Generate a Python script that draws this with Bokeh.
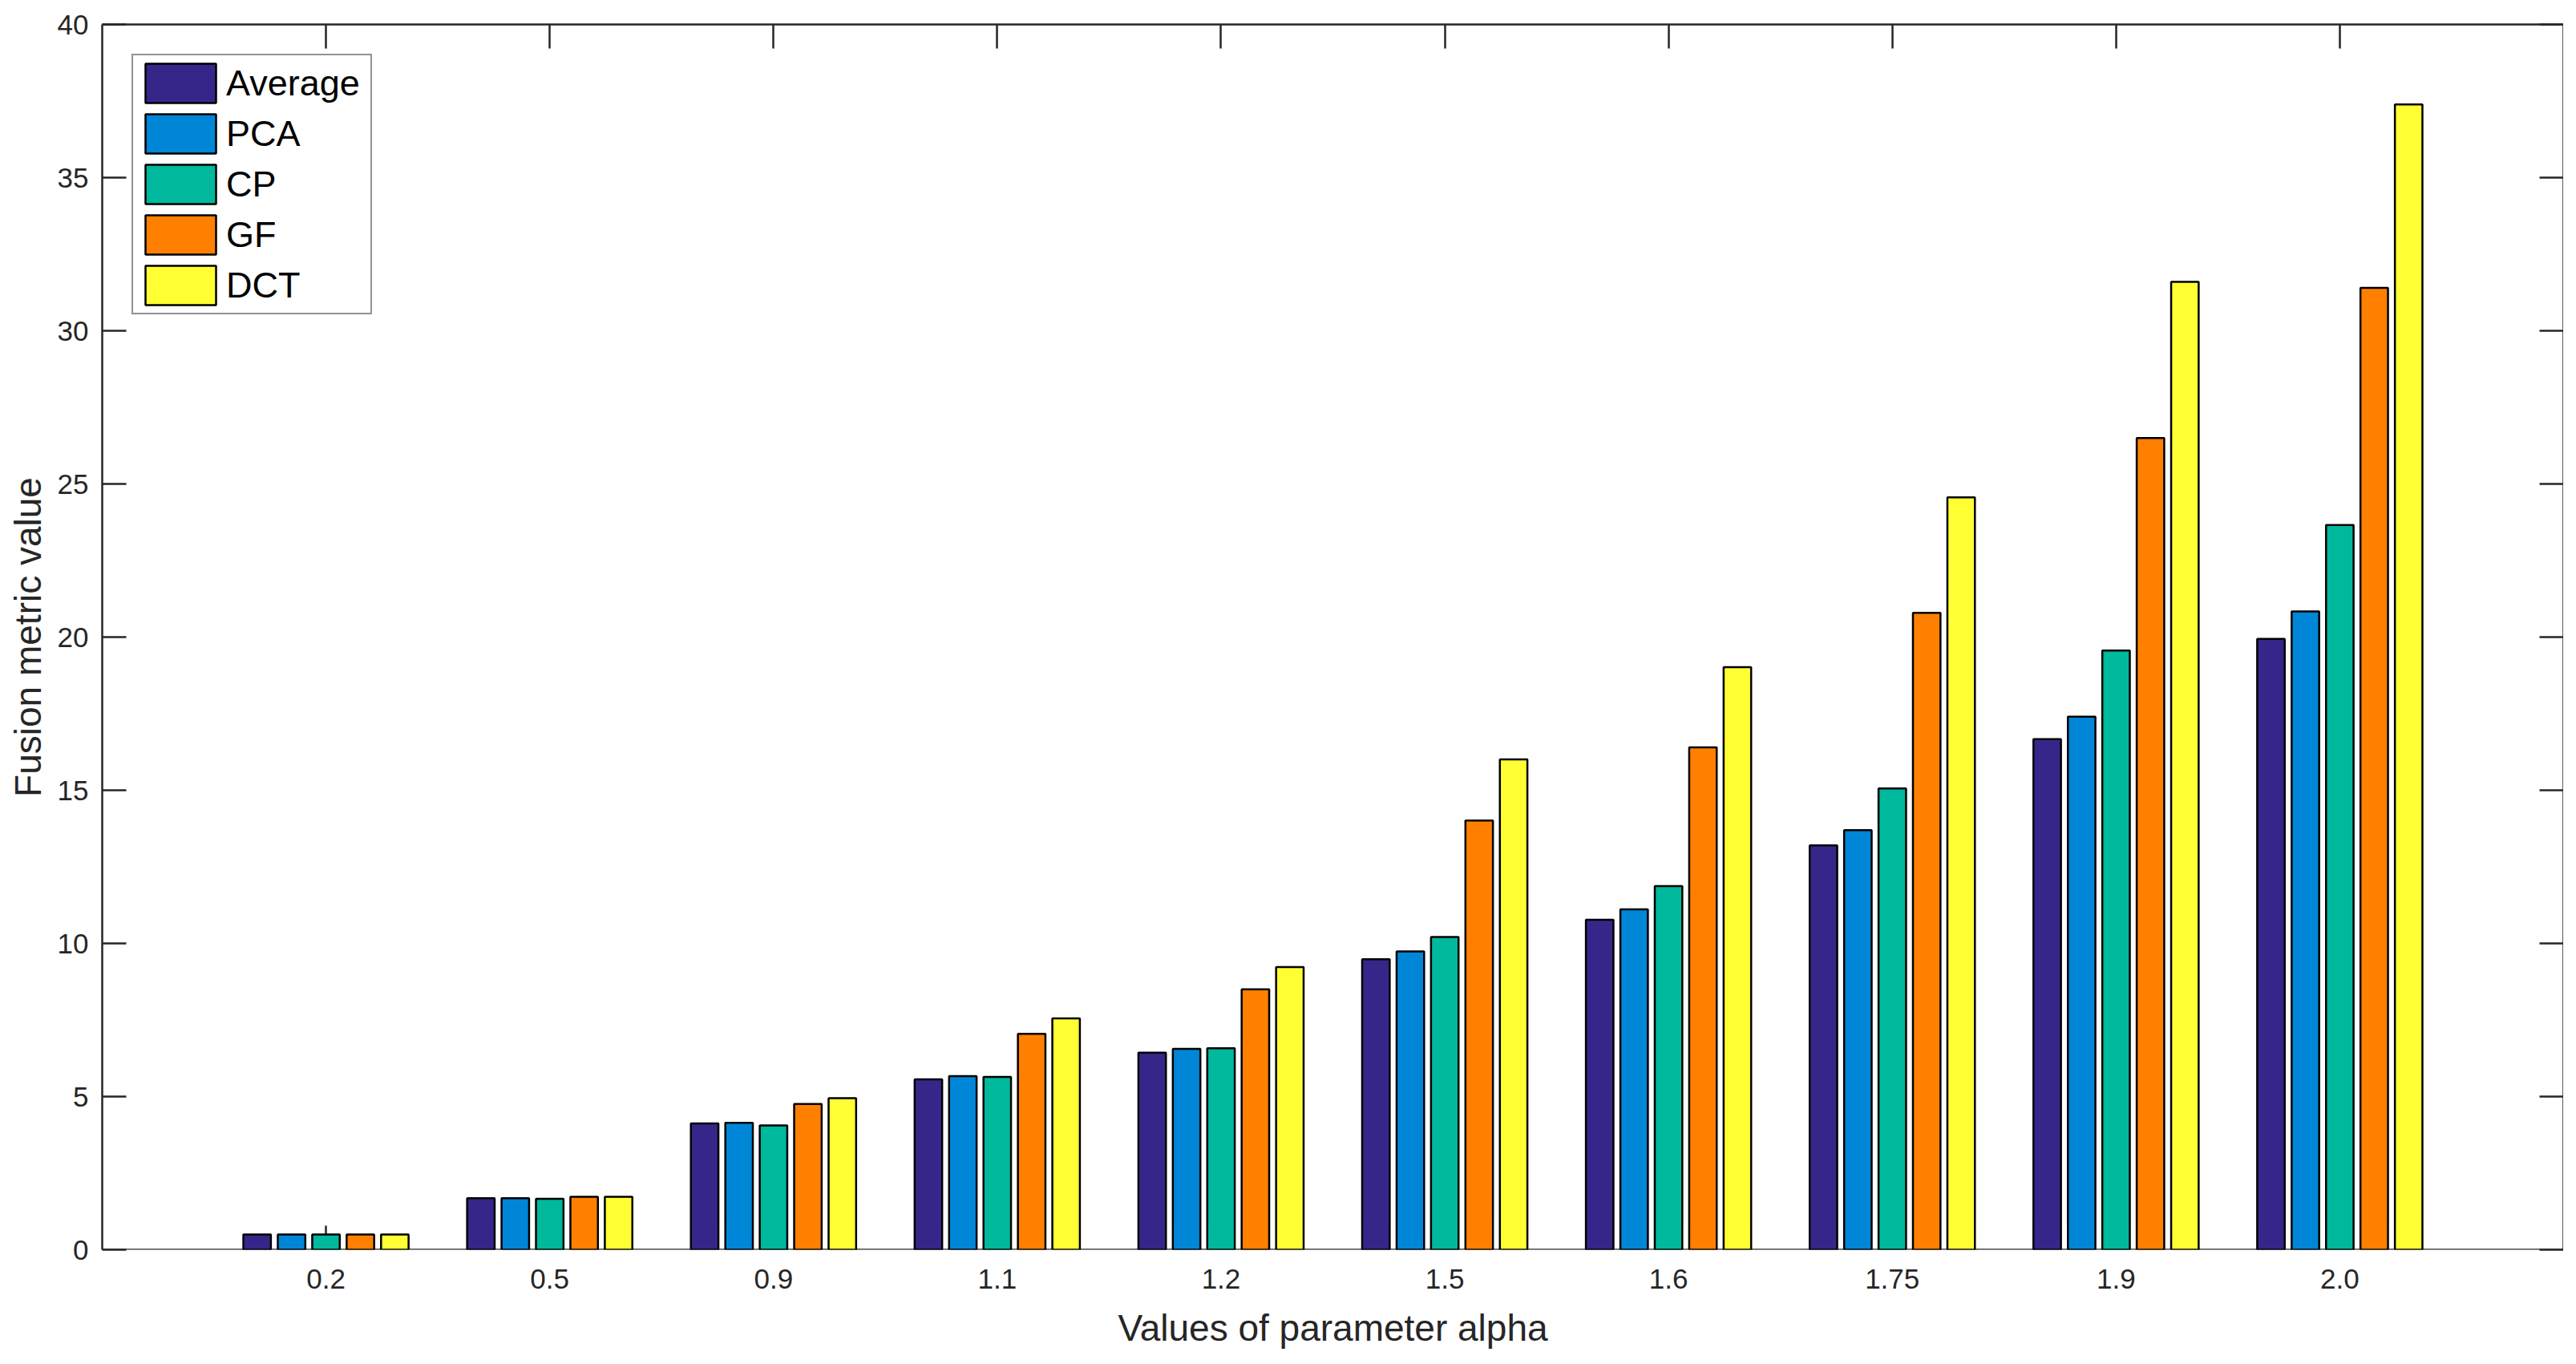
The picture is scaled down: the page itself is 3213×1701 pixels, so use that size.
from bokeh.plotting import figure
from bokeh.models import (Range1d, LinearAxis, FixedTicker, Legend, LegendItem,
                          ColumnDataSource)
from bokeh.transform import dodge
from bokeh.embed import file_html
from bokeh.resources import INLINE

# ---------------- data ----------------
alphas = ["0.2", "0.5", "0.9", "1.1", "1.2", "1.5", "1.6", "1.75", "1.9", "2.0"]
methods = ["Average", "PCA", "CP", "GF", "DCT"]

average = [0.50, 1.68, 4.12, 5.56, 6.43, 9.48, 10.77, 13.20, 16.67, 19.94]
pca     = [0.50, 1.68, 4.14, 5.67, 6.56, 9.74, 11.11, 13.70, 17.40, 20.84]
cp      = [0.50, 1.66, 4.06, 5.64, 6.58, 10.21, 11.87, 15.06, 19.56, 23.66]
gf      = [0.50, 1.73, 4.76, 7.05, 8.50, 14.01, 16.40, 20.79, 26.50, 31.40]
dct     = [0.50, 1.73, 4.95, 7.55, 9.23, 16.01, 19.02, 24.56, 31.60, 37.39]

y_ticks = [0, 5, 10, 15, 20, 25, 30, 35, 40]

colors = ["#37268A", "#0086D6", "#00B89C", "#FF8000", "#FFFF33"]
offsets = [-0.3077, -0.1538, 0.0, 0.1538, 0.3077]
bar_width = 0.123

n = len(alphas)
cat_pos = list(range(1, n + 1))          # category index (1..n), like MATLAB bar()

src = ColumnDataSource(dict(pos=cat_pos, alpha=alphas, Average=average,
                            PCA=pca, CP=cp, GF=gf, DCT=dct))

AX = "#262626"
FONT = "Liberation Sans"

p = figure(width=3197, height=1685,
           x_range=Range1d(0, n + 1), y_range=Range1d(0, 40),
           x_axis_location=None, y_axis_location=None,
           output_backend="svg", toolbar_location=None,
           min_border_left=127, min_border_right=0,
           min_border_top=30, min_border_bottom=127,
           background_fill_color="white", border_fill_color="white")
p.outline_line_color = None
p.xgrid.visible = False
p.ygrid.visible = False

renderers = []
for m, c, off in zip(methods, colors, offsets):
    r = p.vbar(x=dodge("pos", off), top=m, width=bar_width,
               source=src, fill_color=c, line_color="black", line_width=2.5)
    renderers.append(r)


def style_axis(ax):
    ax.axis_line_color = AX
    ax.axis_line_width = 2.5
    ax.major_tick_line_color = AX
    ax.major_tick_line_width = 2.5
    ax.major_tick_in = 30
    ax.major_tick_out = 0
    ax.minor_tick_line_color = None
    ax.major_label_text_font = FONT
    ax.major_label_text_font_size = "35px"
    ax.major_label_text_color = AX
    ax.axis_label_text_font = FONT
    ax.axis_label_text_font_size = "46px"
    ax.axis_label_text_font_style = "normal"
    ax.axis_label_text_color = AX


# bottom axis: line + ticks drawn beneath the bars
bot_ticks = LinearAxis(ticker=FixedTicker(ticks=cat_pos))
style_axis(bot_ticks)
bot_ticks.major_label_overrides = {t: "" for t in cat_pos}
bot_ticks.major_label_standoff = 0
bot_ticks.level = "underlay"
p.add_layout(bot_ticks, "below")

# bottom axis: category labels + title
xa = LinearAxis(ticker=FixedTicker(ticks=cat_pos))
style_axis(xa)
xa.axis_line_color = None
xa.major_tick_line_color = None
xa.major_tick_in = 0
xa.major_label_overrides = {t: a for t, a in zip(cat_pos, alphas)}
xa.axis_label = "Values of parameter alpha"
xa.major_label_standoff = 24
xa.axis_label_standoff = 20
p.add_layout(xa, "below")

# left axis
ya = LinearAxis(ticker=FixedTicker(ticks=y_ticks))
style_axis(ya)
ya.axis_label = "Fusion metric value"
ya.major_label_standoff = 17
ya.axis_label_standoff = 8
p.add_layout(ya, "left")

# top axis (ticks only)
top = LinearAxis(ticker=FixedTicker(ticks=cat_pos))
style_axis(top)
top.major_label_overrides = {t: "" for t in cat_pos}
top.major_label_standoff = 0
p.add_layout(top, "above")

# right axis (ticks only)
right = LinearAxis(ticker=FixedTicker(ticks=y_ticks))
style_axis(right)
right.major_label_overrides = {t: "" for t in y_ticks}
right.major_label_standoff = 0
p.add_layout(right, "right")

legend = Legend(items=[LegendItem(label=m, renderers=[r])
                       for m, r in zip(methods, renderers)],
                location="top_left", margin=37, padding=4,
                spacing=2, glyph_width=110, glyph_height=61,
                label_standoff=2, label_width=176, label_text_font=FONT,
                label_text_font_size="45px", label_text_color="black",
                label_height=52,
                border_line_color=AX, border_line_width=2.5,
                background_fill_color="white", background_fill_alpha=1.0)
p.add_layout(legend)

open("out.html", "w").write(file_html(p, INLINE))
